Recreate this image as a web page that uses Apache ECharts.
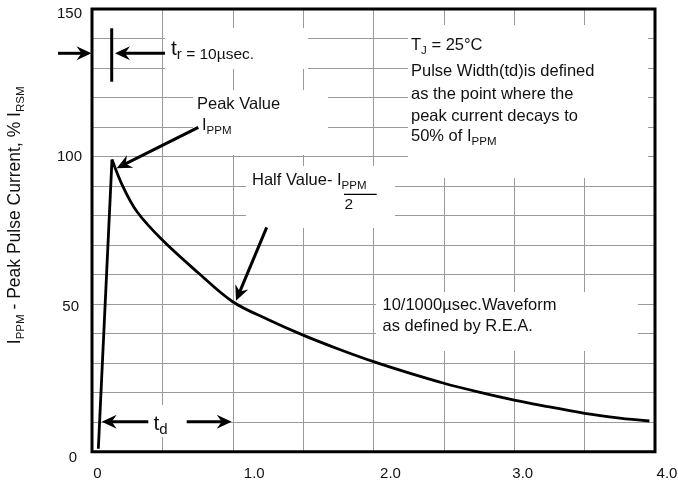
<!DOCTYPE html>
<html>
<head>
<meta charset="utf-8">
<script src="https://cdn.jsdelivr.net/npm/echarts@6/dist/echarts.min.js"></script>
<style>html,body{margin:0;padding:0;background:#fff}#c{width:678px;height:488px}</style>
</head>
<body>
<div id="c"></div>
<script>
// ---- data ----
const timeMs = [0.045, 0.142, 0.22, 0.32, 0.5, 0.75, 1.0, 1.25, 1.5, 1.75, 2.0, 2.25, 2.5, 2.75, 3.0, 3.25, 3.5, 3.75, 3.96];
const currentPct = [1, 99, 89.8, 81.3, 71.7, 60.8, 50.8, 44.8, 39.5, 34.8, 30.5, 26.7, 23.2, 20.2, 17.5, 15.2, 13, 11.4, 10.4];
const xTickValues = [0, 1, 2, 3, 4];
const xTickLabels = ['0', '1.0', '2.0', '3.0', '4.0'];
const yTickValues = [0, 50, 100, 150];
const yTickLabels = ['0', '50', '100', '150'];

// ---- styling ----
const FONT = "'Liberation Sans', Arial, Helvetica, sans-serif";
const INK = '#111';
const xLabelPad = [11, 43, 34, 17, 24];          // left padding per x label (nudges like the original)
const yLabelPad = [[13, 5], [5, 3], [0, 0], [9, 0]]; // [top, right] padding per y label

const risePts = timeMs.slice(0, 2).map((x, i) => [x, currentPct[i]]);
const decayPts = timeMs.slice(1).map((x, i) => [x, currentPct[i + 1]]);

const xRich = {};
xTickValues.forEach((v, i) => { xRich['x' + i] = {padding: [0, 0, 0, xLabelPad[i]], fontSize: 15, fontFamily: FONT, color: INK}; });
const yRich = {};
yTickValues.forEach((v, i) => { yRich['y' + i] = {padding: [yLabelPad[i][0], yLabelPad[i][1], 0, 0], fontSize: 15, fontFamily: FONT, color: INK}; });

function baseRich(fs, sfs) {
  return {
    m: {fontSize: fs, lineHeight: 22, fontFamily: FONT, color: INK, verticalAlign: 'middle'},
    s: {fontSize: sfs, lineHeight: 11, fontFamily: FONT, color: INK, verticalAlign: 'bottom'},
    t: {fontSize: 21, lineHeight: 26, fontFamily: FONT, color: INK, verticalAlign: 'middle'},
    n: {fontSize: 15.5, lineHeight: 25, fontFamily: FONT, color: INK, verticalAlign: 'bottom'},
    r: {fontSize: 15, lineHeight: 12, fontFamily: FONT, color: INK, verticalAlign: 'bottom'}
  };
}
function txt(x, y, text, fs) {
  return {type: 'text', x: x, y: y, z: 6, silent: true,
    style: {text: text, fill: INK, fontFamily: FONT, fontSize: fs || 16.5,
      align: 'left', verticalAlign: 'middle', textAlign: 'left', textVerticalAlign: 'middle',
      rich: baseRich(fs || 16.5, 11.5)}};
}
function arrow(x1, y1, x2, y2) {
  const L = Math.hypot(x2 - x1, y2 - y1), dx = (x2 - x1) / L, dy = (y2 - y1) / L, nx = -dy, ny = dx;
  const hl = 15, hw = 7, notch = 10;
  return [
    {type: 'line', z: 6, silent: true, shape: {x1: x1, y1: y1, x2: x2 - dx * 8, y2: y2 - dy * 8}, style: {stroke: '#000', lineWidth: 3}},
    {type: 'polygon', z: 6, silent: true, shape: {points: [[x2, y2], [x2 - dx * hl + nx * hw, y2 - dy * hl + ny * hw], [x2 - dx * notch, y2 - dy * notch], [x2 - dx * hl - nx * hw, y2 - dy * hl - ny * hw]]}, style: {fill: '#000'}}
  ];
}
function box(x, y, w, h) {
  return {type: 'rect', z: 1, silent: true, shape: {x: x, y: y, width: w, height: h}, style: {fill: '#fff'}};
}

const elements = [
  // white label backgrounds hiding grid lines
  box(165, 28, 143, 41),
  box(193, 90, 135, 65),
  box(246, 166, 149, 62),
  box(408, 25, 240, 153),
  box(376, 292, 262, 59),
  box(148, 405, 39, 32),
  // t_r marker
  ...arrow(58, 53.3, 91.5, 53.3),
  {type: 'line', z: 6, silent: true, shape: {x1: 111.7, y1: 28.3, x2: 111.7, y2: 81.7}, style: {stroke: '#000', lineWidth: 3}},
  ...arrow(165, 53.3, 115, 53.3),
  txt(171, 49.6, '{t|t}{r|r}{n| = 10µsec.}'),
  // peak value
  txt(197, 104.2, '{m|Peak Value}'),
  txt(202, 125.9, '{m|I}{s|PPM}'),
  ...arrow(198.3, 127.3, 116.7, 168.3),
  // half value
  txt(252, 180.9, '{m|Half Value- I}{s|PPM}'),
  {type: 'line', z: 6, silent: true, shape: {x1: 344, y1: 194.3, x2: 376.7, y2: 194.3}, style: {stroke: '#000', lineWidth: 1.3}},
  txt(344.5, 205, '{m|2}', 15.5),
  ...arrow(266.7, 227.3, 236, 300.7),
  // T_J block
  txt(411, 45.9, '{m|T}{s|J}{m| = 25°C}'),
  txt(411, 71.5, '{m|Pulse Width(td)is defined}'),
  txt(411, 94.2, '{m|as the point where the}'),
  txt(411, 116.9, '{m|peak current decays to}'),
  txt(411, 136.9, '{m|50% of I}{s|PPM}'),
  // waveform note
  txt(382.5, 305.2, '{m|10/1000µsec.Waveform}'),
  txt(382.5, 326.5, '{m|as defined by R.E.A.}'),
  // t_d marker
  ...arrow(148.3, 421.7, 101.7, 421.7),
  ...arrow(186.7, 421.7, 231.7, 421.7),
  txt(153.5, 424, '{t|t}{r|d}'),
  // plot frame
  {type: 'rect', z: 10, silent: true, shape: {x: 92, y: 9, width: 563, height: 442.7}, style: {fill: 'transparent', stroke: '#000', lineWidth: 3}}
];

const chart = echarts.init(document.getElementById('c'), null, {renderer: 'canvas'});
chart.setOption({
  animation: false,
  backgroundColor: '#fff',
  textStyle: {fontFamily: FONT},
  grid: {left: 92, right: 23, top: 9, bottom: 36.3, containLabel: false, outerBoundsMode: 'none'},
  xAxis: {
    type: 'value', min: 0, max: 4, interval: 0.5,
    axisLine: {show: false}, axisTick: {show: false},
    splitLine: {show: true, showMinLine: false, showMaxLine: false, lineStyle: {color: '#999', width: 1}},
    axisLabel: {
      margin: 15, fontSize: 15, fontFamily: FONT, color: INK, showMinLabel: true, showMaxLabel: true,
      formatter: function (v) {
        const i = xTickValues.findIndex(t => Math.abs(t - v) < 1e-9);
        return i >= 0 ? '{x' + i + '|' + xTickLabels[i] + '}' : '';
      },
      rich: xRich
    }
  },
  yAxis: {
    type: 'value', min: 0, max: 150, interval: 10,
    axisLine: {show: false}, axisTick: {show: false},
    splitLine: {show: true, showMinLine: false, showMaxLine: false, lineStyle: {color: '#999', width: 1}},
    axisLabel: {
      margin: 10, fontSize: 15, fontFamily: FONT, color: INK, showMinLabel: true, showMaxLabel: true,
      formatter: function (v) {
        const i = yTickValues.findIndex(t => Math.abs(t - v) < 1e-9);
        return i >= 0 ? '{y' + i + '|' + yTickLabels[i] + '}' : '';
      },
      rich: yRich
    },
    name: '{m|I}{s|PPM}{m| - Peak Pulse Current, % I}{s|RSM}',
    nameLocation: 'middle', nameRotate: 90, nameGap: 65,
    nameTextStyle: {
      padding: [0, 0, 0, 30],
      rich: {
        m: {fontSize: 17.5, lineHeight: 24, fontFamily: FONT, color: INK, verticalAlign: 'middle'},
        s: {fontSize: 11.5, lineHeight: 12, fontFamily: FONT, color: INK, verticalAlign: 'bottom'}
      }
    }
  },
  series: [
    {type: 'line', data: risePts, showSymbol: false, silent: true, z: 3, lineStyle: {color: '#000', width: 2.8}},
    {type: 'line', data: decayPts, smooth: 0.35, showSymbol: false, silent: true, z: 3, lineStyle: {color: '#000', width: 2.8}}
  ],
  graphic: {elements: elements}
});
</script>
</body>
</html>
